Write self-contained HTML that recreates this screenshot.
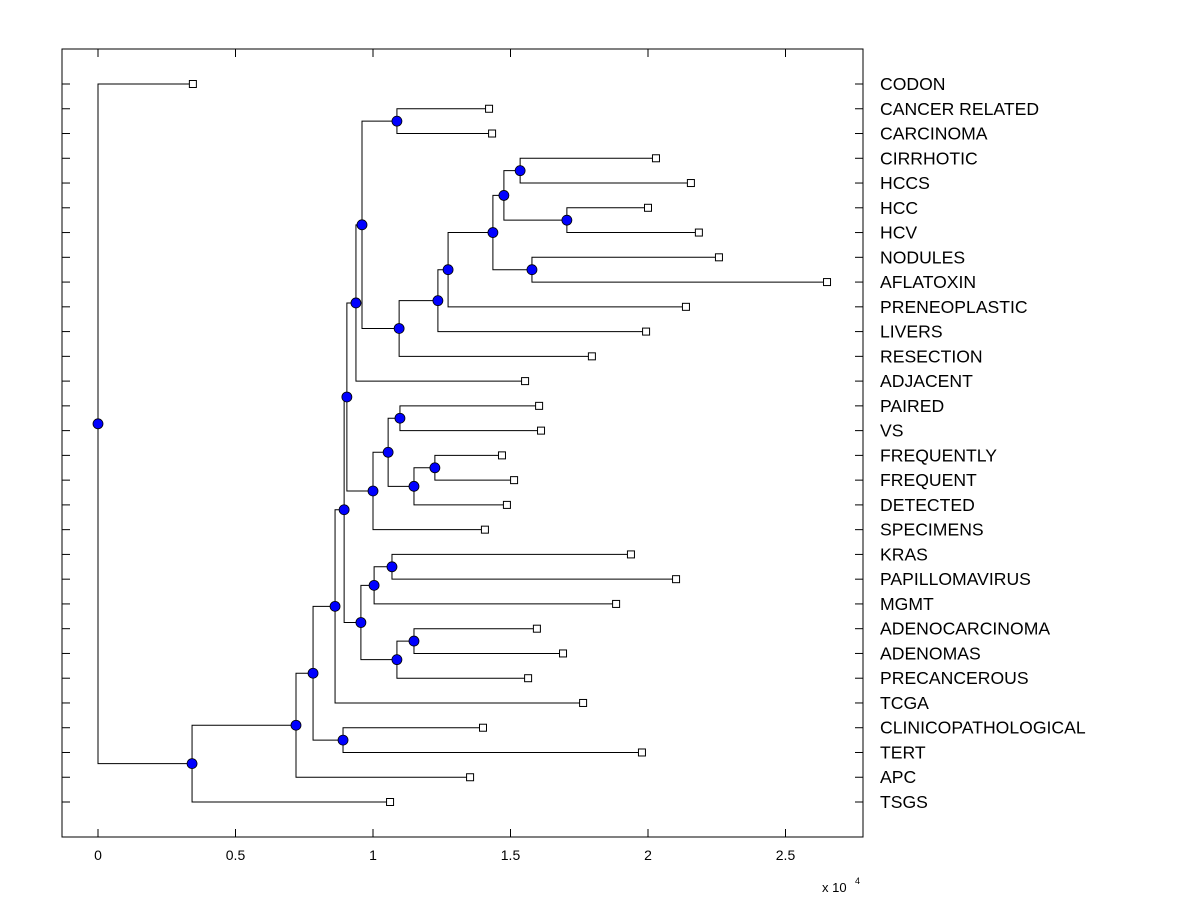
<!DOCTYPE html>
<html><head><meta charset="utf-8"><style>
html,body{margin:0;padding:0;background:#fff;width:1200px;height:900px;overflow:hidden}
svg text{font-family:"Liberation Sans",Arial,sans-serif;fill:#000}
</style></head><body>
<svg id="chart" width="1200" height="900" xmlns="http://www.w3.org/2000/svg">
<rect x="62" y="49" width="801" height="788" fill="#fff" stroke="#000" stroke-width="1"/>
<text x="822" y="892" font-size="13">x 10</text>
<text x="855" y="884" font-size="9">4</text>
</svg>
<script>
const labels=["CODON","CANCER RELATED","CARCINOMA","CIRRHOTIC","HCCS","HCC","HCV","NODULES","AFLATOXIN","PRENEOPLASTIC","LIVERS","RESECTION","ADJACENT","PAIRED","VS","FREQUENTLY","FREQUENT","DETECTED","SPECIMENS","KRAS","PAPILLOMAVIRUS","MGMT","ADENOCARCINOMA","ADENOMAS","PRECANCEROUS","TCGA","CLINICOPATHOLOGICAL","TERT","APC","TSGS"];
const leafValues=[0.345,1.422,1.433,2.029,2.156,2.0,2.185,2.258,2.651,2.138,1.993,1.796,1.553,1.604,1.611,1.469,1.513,1.487,1.407,1.938,2.102,1.884,1.596,1.691,1.564,1.764,1.4,1.978,1.353,1.062];
const mergeLeft=[1,3,5,31,7,33,35,36,37,30,39,13,15,42,41,44,40,19,47,22,49,48,46,52,26,53,55,56,0];
const mergeRight=[2,4,6,32,8,34,9,10,11,38,12,14,16,17,43,18,45,20,21,23,24,50,51,25,27,54,28,29,57];
const mergeHeight=[1.087,1.535,1.705,1.476,1.578,1.436,1.273,1.236,1.095,0.96,0.938,1.098,1.225,1.149,1.055,1.0,0.905,1.069,1.004,1.149,1.087,0.956,0.895,0.862,0.891,0.782,0.72,0.342,0];
const xTicks=[0,0.5,1,1.5,2,2.5];
const xTickLabels=["0","0.5","1","1.5","2","2.5"];

const svg=document.getElementById('chart');
const NS='http://www.w3.org/2000/svg';
const xs=v=>98+v*275;
const ys=i=>84+i*(802-84)/29;
function mk(tag,attrs){const e=document.createElementNS(NS,tag);for(const k in attrs)e.setAttribute(k,attrs[k]);svg.appendChild(e);return e;}

xTicks.forEach((t,i)=>{
  const x=xs(t);
  const a=mk('line',{x1:x,x2:x,y1:837,y2:829,stroke:'#000'});
  
  
  const b=mk('line',{x1:x,x2:x,y1:49,y2:57,stroke:'#000'});
  
  
  const tx=mk('text',{x:x,y:860,'font-size':14,'text-anchor':'middle'});
  tx.textContent=xTickLabels[i];
  
  
});
labels.forEach((l,i)=>{
  const y=ys(i);
  const a=mk('line',{x1:62,x2:70,y1:y,y2:y,stroke:'#000'});
  
  
  const b=mk('line',{x1:855,x2:863,y1:y,y2:y,stroke:'#000'});
  
  
  const t=mk('text',{x:880,y:y+6,'font-size':17.6});
  t.textContent=l;
  
  
});

const px=[],py=[];
leafValues.forEach((v,i)=>{px[i]=xs(v);py[i]=ys(i);});
mergeHeight.forEach((h,k)=>{
  const id=30+k,a=mergeLeft[k],b=mergeRight[k];
  px[id]=xs(h);py[id]=(py[a]+py[b])/2;
});
mergeHeight.forEach((h,k)=>{
  const id=30+k,a=mergeLeft[k],b=mergeRight[k],x=px[id];
  const p=mk('path',{d:`M${px[a]},${py[a]}H${x}V${py[b]}H${px[b]}`,fill:'none',stroke:'#000','stroke-width':1});
  
  
});
leafValues.forEach((v,i)=>{
  const r=mk('rect',{x:px[i]-3.5,y:py[i]-3.5,width:7,height:7,fill:'#fff',stroke:'#000'});
  
  
});
mergeHeight.forEach((h,k)=>{
  const id=30+k;
  const c=mk('circle',{cx:px[id],cy:py[id],r:5,fill:'#0000ff',stroke:'#000','stroke-width':0.8});
  
  
});
</script>
</body></html>
